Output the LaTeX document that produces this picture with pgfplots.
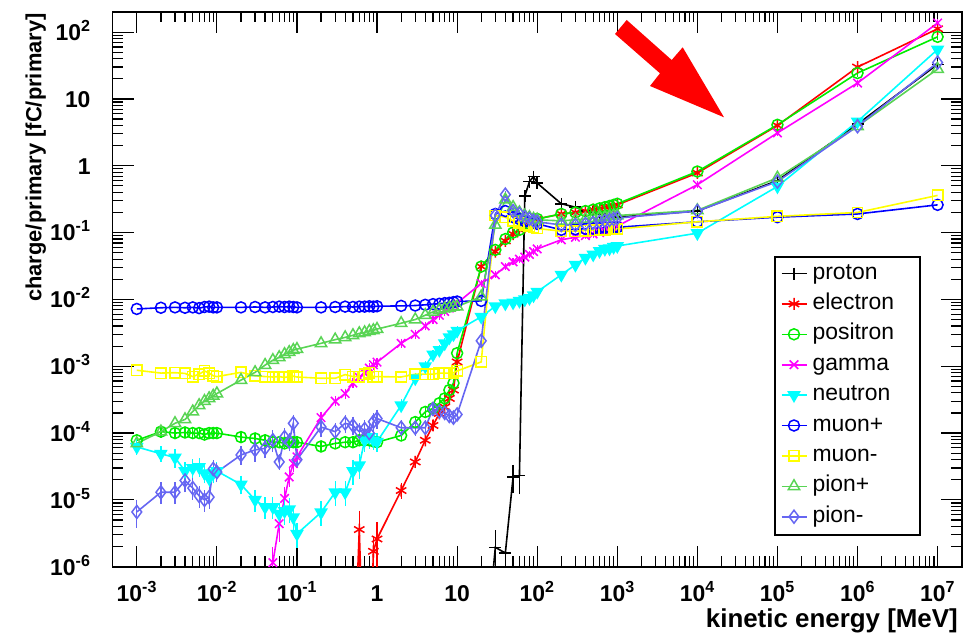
\documentclass[border=0pt]{standalone}
\usepackage{pgfplots}
\pgfplotsset{compat=1.18}
\usepackage{fontspec}
\setmainfont{Liberation Sans}
\definecolor{cPionP}{rgb}{0.35,0.83,0.33}
\definecolor{cPionM}{rgb}{0.40,0.40,0.95}
\definecolor{cGreen}{rgb}{0,0.93,0}
\definecolor{cCyan}{rgb}{0,1,1}
\definecolor{cMag}{rgb}{1,0,1}
\definecolor{cYel}{rgb}{1,1,0}
\definecolor{cBlue}{rgb}{0,0,1}
\definecolor{cRed}{rgb}{1,0,0}
\newcommand{\tl}{\bfseries\fontsize{23}{27}\selectfont}
\pgfplotsset{
  ser/.style={line width=1.6bp, mark options={solid, line width=1.5bp}},
  eb/.style={error bars/.cd, y dir=both, y explicit relative,
     error bar style={line width=1.2bp}, error mark options={line width=1.2bp, mark size=3.5bp}},
}
\begin{document}
\begin{tikzpicture}
\begin{axis}[
  xmode=log, ymode=log,
  scale only axis, width=849bp, height=554.7bp,
  xmin=5e-4, xmax=2e7, ymin=1e-6, ymax=200,
  axis line style={line width=1.6bp},
  every tick/.style={black, line width=1.2bp},
  tick align=inside,
  major tick length=21bp, minor tick length=10.5bp,
  xtick={1e-3,1e-2,1e-1,1,10,100,1e3,1e4,1e5,1e6,1e7},
  xticklabels={10\textsuperscript{-3},10\textsuperscript{-2},10\textsuperscript{-1},1,10,10\textsuperscript{2},10\textsuperscript{3},10\textsuperscript{4},10\textsuperscript{5},10\textsuperscript{6},10\textsuperscript{7}},
  ytick={1e-6,1e-5,1e-4,1e-3,1e-2,1e-1,1,10,100},
  yticklabels={10\textsuperscript{-6},10\textsuperscript{-5},10\textsuperscript{-4},10\textsuperscript{-3},10\textsuperscript{-2},10\textsuperscript{-1},1,10,10\textsuperscript{2}},
  xticklabel style={font=\tl, anchor=base, inner sep=0pt, yshift=-35bp},
  yticklabel style={font=\tl, anchor=base east, inner sep=0pt, xshift=-22bp, yshift=-8.3bp},
  legend style={at={(0.7868,0.5475)}, anchor=north west, draw=none, fill=none,
     font=\fontsize{23}{27}\selectfont, inner sep=0pt, outer sep=0pt,
     row sep=9.4bp, column sep=5.3bp,
     nodes={inner sep=0pt, text height=16bp, text depth=5bp}},
  legend cell align=left,
  legend image code/.code={\draw[mark repeat=2,mark phase=2,#1] plot coordinates {(0bp,0bp) (12.5bp,0bp) (25bp,0bp)};},
]
% proton
\addplot[ser, color=black, mark=+, mark size=6bp, eb] table[x=x,y=y,y error=e] {
x y e
20 1e-8 0
30 1.95e-6 0.6
40 1.6e-6 0.15
50 2.2e-5 0.35
60 2.3e-5 0.4
70 0.35 0.03
80 0.58 0.03
90 0.69 0.05
100 0.55 0.03
200 0.27 0.02
300 0.24 0.02
400 0.21 0.02
500 0.20 0
600 0.19 0
700 0.185 0
800 0.18 0
900 0.175 0
1000 0.17 0
1e4 0.21 0
1e5 0.6 0
1e6 4.2 0
1e7 33 0
};
\addlegendentry{proton}
% electron
\addplot[ser, color=cRed, mark=asterisk, mark size=6bp, eb] table[x=x,y=y,y error=e] {
x y e
0.5 1e-8 0
0.6 3.6e-6 0.7
0.7 1e-8 0
0.8 1e-8 0
0.9 1.7e-6 0.5
1 2.6e-6 0.6
2 1.38e-5 0.15
3 3.7e-5 0.1
4 7.8e-5 0.08
5 1.3e-4 0.06
6 1.97e-4 0.05
7 2.45e-4 0.05
8 3.3e-4 0.04
9 4.4e-4 0.04
10 1.16e-3 0.03
20 0.031 0
30 0.052 0
40 0.075 0
50 0.095 0
60 0.11 0
70 0.12 0
80 0.13 0
90 0.14 0
100 0.16 0
200 0.19 0
300 0.20 0
400 0.21 0
500 0.22 0
600 0.23 0
700 0.24 0
800 0.245 0
900 0.25 0
1000 0.26 0
1e4 0.78 0
1e5 4.0 0
1e6 30 0
1e7 112 0
};
\addlegendentry{electron}
% positron
\addplot[ser, color=cGreen, mark=o, mark size=5.5bp, eb] table[x=x,y=y,y error=e] {
x y e
0.001 7.8e-5 0.08
0.002 1.05e-4 0.08
0.003 1.0e-4 0.08
0.004 1.02e-4 0.08
0.005 1.0e-4 0.08
0.006 1.0e-4 0.08
0.007 9.5e-5 0.08
0.008 1.0e-4 0.08
0.009 1.0e-4 0.08
0.01 1.0e-4 0.08
0.02 8.7e-5 0.08
0.03 8.3e-5 0.08
0.04 7.8e-5 0.08
0.05 7.3e-5 0.08
0.06 7.3e-5 0.08
0.07 7.0e-5 0.08
0.08 7.3e-5 0.08
0.09 7.3e-5 0.08
0.1 7.3e-5 0.08
0.2 6.3e-5 0.08
0.3 7.0e-5 0.08
0.4 7.3e-5 0.08
0.5 7.3e-5 0.08
0.6 7.8e-5 0.08
0.7 7.8e-5 0.08
0.8 7.8e-5 0.08
0.9 7.5e-5 0.08
1 7.3e-5 0.08
2 9.2e-5 0.08
3 1.46e-4 0.06
4 2.07e-4 0.05
5 2.34e-4 0.05
6 2.8e-4 0.04
7 3.3e-4 0.04
8 4.4e-4 0.03
9 5.6e-4 0.03
10 1.57e-3 0.02
20 0.031 0
30 0.055 0
40 0.08 0
50 0.10 0
60 0.11 0
70 0.125 0
80 0.135 0
90 0.145 0
100 0.16 0
200 0.19 0
300 0.20 0
400 0.21 0
500 0.22 0
600 0.23 0
700 0.24 0
800 0.25 0
900 0.26 0
1000 0.27 0
1e4 0.82 0
1e5 4.1 0
1e6 24.4 0
1e7 85 0
};
\addlegendentry{positron}
% gamma
\addplot[ser, color=cMag, mark=x, mark size=6bp, eb] table[x=x,y=y,y error=e] {
x y e
0.05 1.15e-6 0.5
0.06 4.4e-6 0.4
0.07 1.05e-5 0.3
0.08 2.2e-5 0.2
0.09 3.5e-5 0.15
0.1 4.4e-5 0.15
0.2 1.7e-4 0.08
0.3 3.0e-4 0.06
0.4 3.9e-4 0.05
0.5 5.6e-4 0.05
0.6 6.8e-4 0.05
0.7 7.9e-4 0.04
0.8 9.4e-4 0.04
0.9 1.05e-3 0.04
1 1.15e-3 0.04
2 2.2e-3 0.03
3 3.0e-3 0.03
4 4.0e-3 0.03
5 5.0e-3 0.03
6 5.8e-3 0.03
7 6.6e-3 0.03
8 7.4e-3 0.03
9 8.2e-3 0.03
10 8.8e-3 0.03
20 0.0174 0
30 0.0233 0
40 0.031 0
50 0.0365 0
60 0.040 0
70 0.043 0
80 0.047 0
90 0.052 0
100 0.057 0
200 0.078 0
300 0.085 0
400 0.09 0
500 0.095 0
600 0.10 0
700 0.105 0
800 0.11 0
900 0.115 0
1000 0.125 0
1e4 0.52 0
1e5 3.1 0
1e6 17.3 0
1e7 137 0
};
\addlegendentry{gamma}
% neutron
\addplot[ser, color=cCyan, mark=triangle*, mark size=6.3bp, mark options={rotate=180, fill=cCyan}, eb] table[x=x,y=y,y error=e] {
x y e
0.001 6.2e-5 0.15
0.002 4.9e-5 0.15
0.003 4.3e-5 0.2
0.004 2.7e-5 0.2
0.005 3.0e-5 0.2
0.006 3.1e-5 0.2
0.007 2.5e-5 0.2
0.008 2.1e-5 0.2
0.009 2.5e-5 0.2
0.01 2.7e-5 0.2
0.02 1.7e-5 0.2
0.03 1.0e-5 0.25
0.04 7.8e-6 0.25
0.05 7.8e-6 0.25
0.06 6.2e-6 0.3
0.07 6.8e-6 0.3
0.08 7.2e-6 0.3
0.09 5.5e-6 0.3
0.1 3.1e-6 0.3
0.2 6.5e-6 0.3
0.3 1.3e-5 0.3
0.4 1.3e-5 0.3
0.5 2.7e-5 0.3
0.6 3.3e-5 0.3
0.7 7.8e-5 0.25
0.8 8.7e-5 0.25
0.9 7.8e-5 0.2
1 7.4e-5 0.2
2 2.6e-4 0.1
3 6.6e-4 0.08
4 1.0e-3 0.06
5 1.5e-3 0.05
6 1.75e-3 0.05
7 2.2e-3 0.05
8 2.7e-3 0.04
9 3.0e-3 0.04
10 3.4e-3 0.04
20 5.5e-3 0
30 7.9e-3 0
40 8.7e-3 0
50 9.0e-3 0
60 9.5e-3 0
70 1.0e-2 0
80 1.05e-2 0
90 1.15e-2 0
100 1.3e-2 0
200 0.0234 0
300 0.033 0
400 0.042 0
500 0.047 0
600 0.053 0
700 0.057 0
800 0.058 0
900 0.061 0
1000 0.063 0
1e4 0.098 0
1e5 0.49 0
1e6 4.6 0
1e7 55 0
};
\addlegendentry{neutron}
% muon+
\addplot[ser, color=cBlue, mark=o, mark size=5.5bp] table[x=x,y=y] {
x y
0.001 0.0072
0.002 0.0075
0.003 0.0076
0.004 0.0075
0.005 0.0076
0.006 0.0074
0.007 0.0077
0.008 0.0078
0.009 0.0076
0.01 0.0076
0.02 0.0076
0.03 0.0077
0.04 0.0076
0.05 0.0077
0.06 0.0078
0.07 0.0077
0.08 0.0078
0.09 0.0077
0.1 0.0076
0.2 0.0076
0.3 0.0077
0.4 0.0078
0.5 0.0077
0.6 0.0078
0.7 0.0078
0.8 0.0079
0.9 0.0078
1 0.0079
2 0.0080
3 0.0081
4 0.0083
5 0.0085
6 0.0086
7 0.0088
8 0.0089
9 0.0091
10 0.0093
20 0.0095
30 0.19
40 0.21
50 0.17
60 0.16
70 0.15
80 0.145
90 0.14
100 0.135
200 0.11
300 0.112
400 0.114
500 0.115
600 0.117
700 0.118
800 0.12
900 0.12
1000 0.12
1e4 0.145
1e5 0.17
1e6 0.19
1e7 0.26
};
\addlegendentry{muon+}
% muon-
\addplot[ser, color=cYel, mark=square, mark size=5.2bp] table[x=x,y=y] {
x y
0.001 8.7e-4
0.002 7.9e-4
0.003 8.0e-4
0.004 7.8e-4
0.005 7.0e-4
0.006 7.6e-4
0.007 8.5e-4
0.008 7.9e-4
0.009 7.2e-4
0.01 7.0e-4
0.02 8.1e-4
0.03 7.2e-4
0.04 7.0e-4
0.05 6.9e-4
0.06 7.0e-4
0.07 6.8e-4
0.08 7.0e-4
0.09 7.1e-4
0.1 6.9e-4
0.2 6.6e-4
0.3 6.6e-4
0.4 7.5e-4
0.5 7.0e-4
0.6 7.0e-4
0.7 7.6e-4
0.8 8.0e-4
0.9 7.0e-4
1 7.0e-4
2 6.9e-4
3 7.6e-4
4 7.6e-4
5 7.6e-4
6 7.9e-4
7 7.9e-4
8 7.9e-4
9 8.0e-4
10 8.5e-4
20 1.16e-3
30 0.18
40 0.17
50 0.15
60 0.14
70 0.13
80 0.125
90 0.12
100 0.115
200 0.105
300 0.105
400 0.107
500 0.108
600 0.11
700 0.11
800 0.112
900 0.112
1000 0.113
1e4 0.145
1e5 0.175
1e6 0.20
1e7 0.36
};
\addlegendentry{muon-}
% pion+
\addplot[ser, color=cPionP, mark=triangle, mark size=6.5bp] table[x=x,y=y] {
x y
0.001 7.0e-5
0.002 1.05e-4
0.003 1.4e-4
0.004 1.6e-4
0.005 2.1e-4
0.006 2.6e-4
0.007 3.0e-4
0.008 3.3e-4
0.009 3.6e-4
0.01 3.9e-4
0.02 6.2e-4
0.03 8.1e-4
0.04 1.04e-3
0.05 1.23e-3
0.06 1.36e-3
0.07 1.51e-3
0.08 1.62e-3
0.09 1.74e-3
0.1 1.8e-3
0.2 2.2e-3
0.3 2.5e-3
0.4 2.7e-3
0.5 2.9e-3
0.6 3.1e-3
0.7 3.2e-3
0.8 3.35e-3
0.9 3.45e-3
1 3.6e-3
2 4.4e-3
3 5.0e-3
4 5.8e-3
5 6.5e-3
6 7.0e-3
7 7.3e-3
8 7.5e-3
9 7.7e-3
10 7.8e-3
20 0.011
30 0.13
40 0.31
50 0.24
60 0.20
70 0.18
80 0.17
90 0.16
100 0.155
200 0.15
300 0.155
400 0.16
500 0.165
600 0.17
700 0.17
800 0.175
900 0.18
1000 0.18
1e4 0.215
1e5 0.66
1e6 3.9
1e7 28
};
\addlegendentry{pion+}
% pion-
\addplot[ser, color=cPionM, mark=diamond, mark size=6.5bp, eb] table[x=x,y=y,y error=e] {
x y e
0.001 6.6e-6 0.35
0.002 1.3e-5 0.25
0.003 1.3e-5 0.25
0.004 1.95e-5 0.25
0.005 1.5e-5 0.25
0.006 1.15e-5 0.25
0.007 1.0e-5 0.25
0.008 1.1e-5 0.25
0.009 2.9e-5 0.2
0.01 2.6e-5 0.2
0.02 4.7e-5 0.2
0.03 5.6e-5 0.25
0.04 5.9e-5 0.2
0.05 7.8e-5 0.25
0.06 3.7e-5 0.15
0.07 8.7e-5 0.2
0.08 7.5e-5 0.2
0.09 1.4e-4 0.2
0.1 4.0e-5 0.15
0.2 1.23e-4 0.2
0.3 1.05e-4 0.2
0.4 1.4e-4 0.2
0.5 1.3e-4 0.2
0.6 1.05e-4 0.2
0.7 1.15e-4 0.2
0.8 1.0e-4 0.2
0.9 1.48e-4 0.2
1 1.65e-4 0.2
2 1.2e-4 0.15
3 1.2e-4 0.15
4 1.2e-4 0.15
5 2.3e-4 0.12
6 2.1e-4 0.12
7 2.0e-4 0.12
8 1.8e-4 0.1
9 1.7e-4 0.1
10 1.9e-4 0.1
20 2.4e-3 0.05
30 0.18 0
40 0.37 0
50 0.21 0
60 0.19 0
70 0.17 0
80 0.16 0
90 0.15 0
100 0.145 0
200 0.13 0
300 0.13 0
400 0.135 0
500 0.14 0
600 0.145 0
700 0.15 0
800 0.155 0
900 0.16 0
1000 0.165 0
1e4 0.21 0
1e5 0.58 0
1e6 3.9 0
1e7 35 0
};
\addlegendentry{pion-}
\end{axis}
% legend frame
\draw[line width=1.2bp] (662.3bp,31.7bp) rectangle (807.3bp,309.7bp);
% red arrow
\fill[red] (514bp,546.7bp) -- (559bp,506.7bp) -- (570bp,519.4bp) -- (611.3bp,449.4bp) -- (537.3bp,480.7bp) -- (547.3bp,493.4bp) -- (502.3bp,532.7bp) -- cycle;
% axis titles
\node[anchor=base east, inner sep=0pt, font=\bfseries\fontsize{26}{30}\selectfont] at (845.3bp,-60.3bp) {kinetic energy [MeV]};
\node[anchor=base east, inner sep=0pt, rotate=90, font=\bfseries\fontsize{22}{26}\selectfont] at (-71.2bp,553.7bp) {charge/primary [fC/primary]};
\pgfresetboundingbox
\path[use as bounding box] (-112.7bp,-70.3bp) rectangle (865.3bp,566.7bp);
\end{tikzpicture}
\end{document}
